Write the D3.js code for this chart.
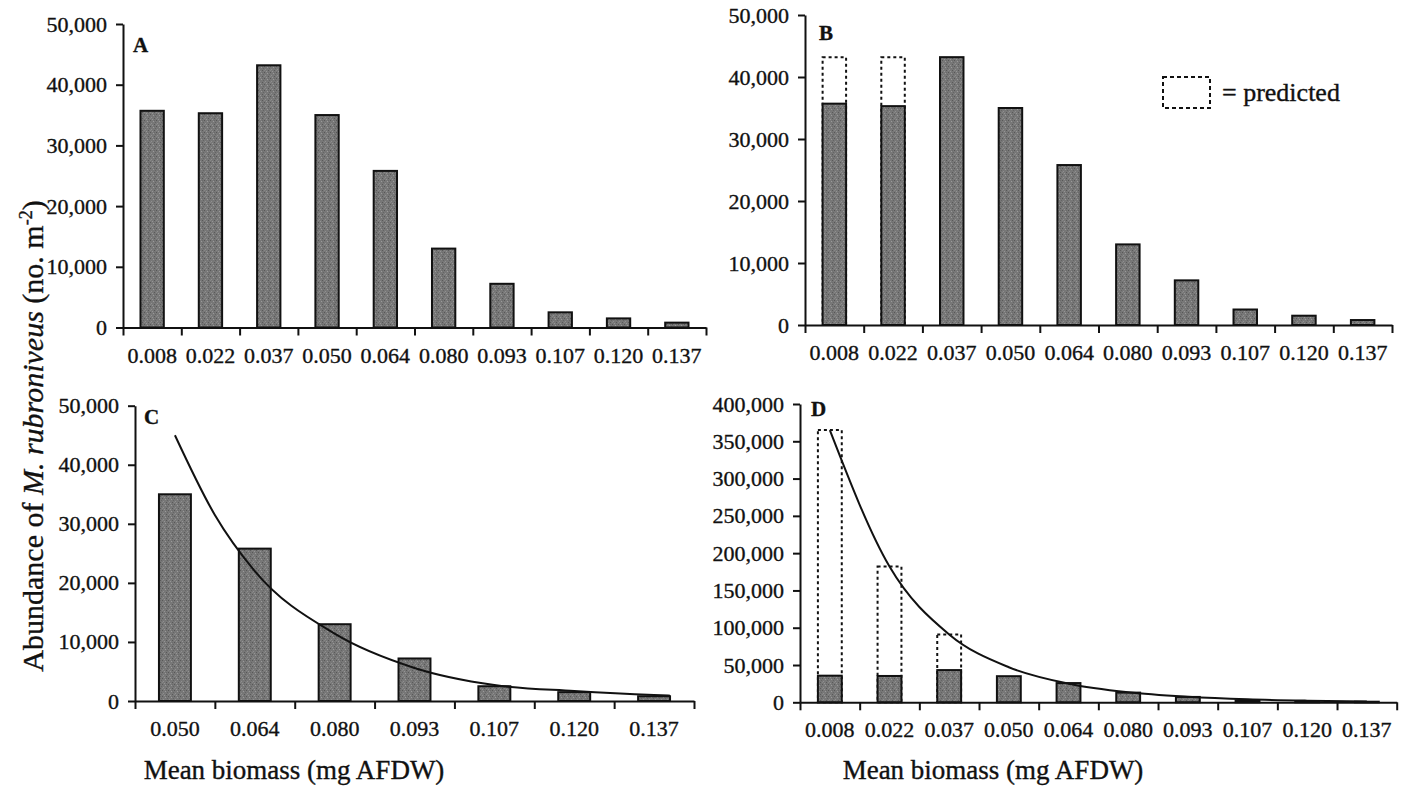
<!DOCTYPE html>
<html>
<head>
<meta charset="utf-8">
<script src="https://cdn.jsdelivr.net/npm/d3@7"></script>
<style>
  body { margin: 0; background: #fff; }
  svg { display: block; }
  text { font-family: "Liberation Serif", "Times New Roman", serif; fill: #111; stroke: #111; stroke-width: 0.35px; }
</style>
</head>
<body>
<div id="chart"></div>
<script>
// biomass classes (mg AFDW) and observed abundance (no. m-2)
const biomass = ["0.008", "0.022", "0.037", "0.050", "0.064", "0.080", "0.093", "0.107", "0.120", "0.137"];
const abundance = [35700, 35300, 43200, 35000, 25800, 13000, 7200, 2500, 1500, 800];

// panel B: predicted abundance for the two smallest classes
const predictedB = [43200, 43200];

// panel C: classes from 0.050 up, with fitted curve [class index, value]
const biomassC = biomass.slice(3);
const abundanceC = abundance.slice(3);
const fitC = [[0, 45000], [0.5, 31500], [1, 22000], [2, 11400], [3, 5600], [4, 2700], [5, 1700], [6, 1000], [6.2, 900]];

// panel D: predicted abundance for the three smallest classes + fitted curve
const predictedD = [365000, 182000, 91000];
const fitD = [[0, 365000], [1, 182000], [2, 91000], [3, 47000], [4, 25000], [5, 13500], [6, 7500], [7, 4000], [8, 2200], [9, 1200]];

const W = 1407, H = 803;
const svg = d3.select("#chart").append("svg")
  .attr("width", W).attr("height", H)
  .attr("viewBox", `0 0 ${W} ${H}`);

// stippled grey fill for the bars
const defs = svg.append("defs");
const pat = defs.append("pattern")
  .attr("id", "stipple")
  .attr("patternUnits", "userSpaceOnUse")
  .attr("width", 6).attr("height", 6);
pat.append("rect").attr("width", 6).attr("height", 6).attr("fill", "#777");
[[0, 0, "#575757"], [3, 1, "#9a9a9a"], [1, 3, "#909090"], [4, 4, "#595959"], [5, 2, "#646464"], [2, 5, "#959595"], [0, 4, "#868686"], [4, 0, "#6a6a6a"]]
  .forEach(([px, py, c]) => pat.append("rect").attr("x", px).attr("y", py).attr("width", 1).attr("height", 1).attr("fill", c));

const panels = [
  { id: "A", cats: biomass, values: abundance, max: 50000, step: 10000,
    x0: 123, x1: 706, yTop: 24, y0: 327.5, letter: [133, 52] },
  { id: "B", cats: biomass, values: abundance, max: 50000, step: 10000, predicted: predictedB,
    x0: 805, x1: 1392, yTop: 15, y0: 325, letter: [819, 40] },
  { id: "C", cats: biomassC, values: abundanceC, max: 50000, step: 10000, fit: fitC,
    x0: 135, x1: 694, yTop: 405.7, y0: 701, letter: [144, 424] },
  { id: "D", cats: biomass, values: abundance, max: 400000, step: 50000, predicted: predictedD, fit: fitD,
    x0: 800, x1: 1396.7, yTop: 404, y0: 702.3, letter: [811, 416] },
];

panels.forEach(p => {
  const g = svg.append("g");
  const n = p.cats.length;

  const x = d3.scaleBand().domain(p.cats).range([p.x0, p.x1])
    .paddingInner(0.6).paddingOuter(0.3);
  const y = d3.scaleLinear().domain([0, p.max]).range([p.y0, p.yTop]);
  const edge = d3.scaleLinear().domain([0, n]).range([p.x0, p.x1]);
  const mid = d3.scaleLinear().domain([-0.5, n - 0.5]).range([p.x0, p.x1]);

  if (p.predicted) {
    g.append("g").selectAll("rect")
      .data(p.predicted)
      .join("rect")
      .attr("x", (d, i) => x(p.cats[i]))
      .attr("width", x.bandwidth())
      .attr("y", d => y(d))
      .attr("height", d => p.y0 - y(d))
      .attr("fill", "none")
      .attr("stroke", "#111")
      .attr("stroke-width", 2)
      .attr("stroke-dasharray", "3,3");
  }

  g.append("g").selectAll("rect")
    .data(p.values)
    .join("rect")
    .attr("x", (d, i) => x(p.cats[i]))
    .attr("width", x.bandwidth())
    .attr("y", d => y(d))
    .attr("height", d => p.y0 - y(d))
    .attr("fill", "url(#stipple)")
    .attr("stroke", "#111")
    .attr("stroke-width", 2);

  if (p.fit) {
    const line = d3.line()
      .x(d => mid(d[0]))
      .y(d => y(d[1]))
      .curve(d3.curveMonotoneX);
    g.append("path")
      .datum(p.fit)
      .attr("d", line)
      .attr("fill", "none")
      .attr("stroke", "#111")
      .attr("stroke-width", 2);
  }

  // y axis
  const ya = g.append("g")
    .attr("transform", `translate(${p.x0},0)`)
    .call(d3.axisLeft(y)
      .tickValues(d3.range(0, p.max + 1, p.step))
      .tickFormat(d3.format(","))
      .tickSize(7).tickSizeOuter(0).tickPadding(9));
  ya.selectAll("text").attr("font-size", "22px").attr("fill", "#111")
    .attr("font-family", "Liberation Serif, serif");

  // x axis: ticks sit between the classes
  g.append("g")
    .attr("transform", `translate(0,${p.y0})`)
    .call(d3.axisBottom(edge)
      .tickValues(d3.range(n + 1))
      .tickFormat("")
      .tickSize(8).tickSizeOuter(0));

  g.selectAll(".domain, .tick line").attr("stroke", "#111").attr("stroke-width", 2);

  g.append("g").selectAll("text")
    .data(p.cats)
    .join("text")
    .attr("x", d => x(d) + x.bandwidth() / 2)
    .attr("y", p.y0 + 35)
    .attr("text-anchor", "middle")
    .attr("font-size", "22px")
    .text(d => d);

  g.append("text")
    .attr("x", p.letter[0]).attr("y", p.letter[1])
    .attr("font-size", "21px")
    .attr("font-weight", "bold")
    .text(p.id);
});

// legend for predicted boxes
svg.append("rect")
  .attr("x", 1163).attr("y", 77).attr("width", 47).attr("height", 31)
  .attr("fill", "none").attr("stroke", "#111").attr("stroke-width", 2)
  .attr("stroke-dasharray", "4,3");
svg.append("text")
  .attr("x", 1222).attr("y", 101)
  .attr("font-size", "26px")
  .text("= predicted");

// axis titles
[294, 993].forEach(cx => {
  svg.append("text")
    .attr("x", cx).attr("y", 779)
    .attr("text-anchor", "middle")
    .attr("font-size", "27px")
    .text("Mean biomass (mg AFDW)");
});

const yt = svg.append("text")
  .attr("transform", "translate(43,436) rotate(-90)")
  .attr("text-anchor", "middle")
  .attr("font-size", "30px");
yt.append("tspan").text("Abundance of ");
yt.append("tspan").attr("font-style", "italic").text("M. rubroniveus");
yt.append("tspan").text("  (no. m");
yt.append("tspan").attr("font-size", "18px").attr("dy", -11).text("-2");
yt.append("tspan").attr("dy", 11).text(")");
</script>
</body>
</html>
